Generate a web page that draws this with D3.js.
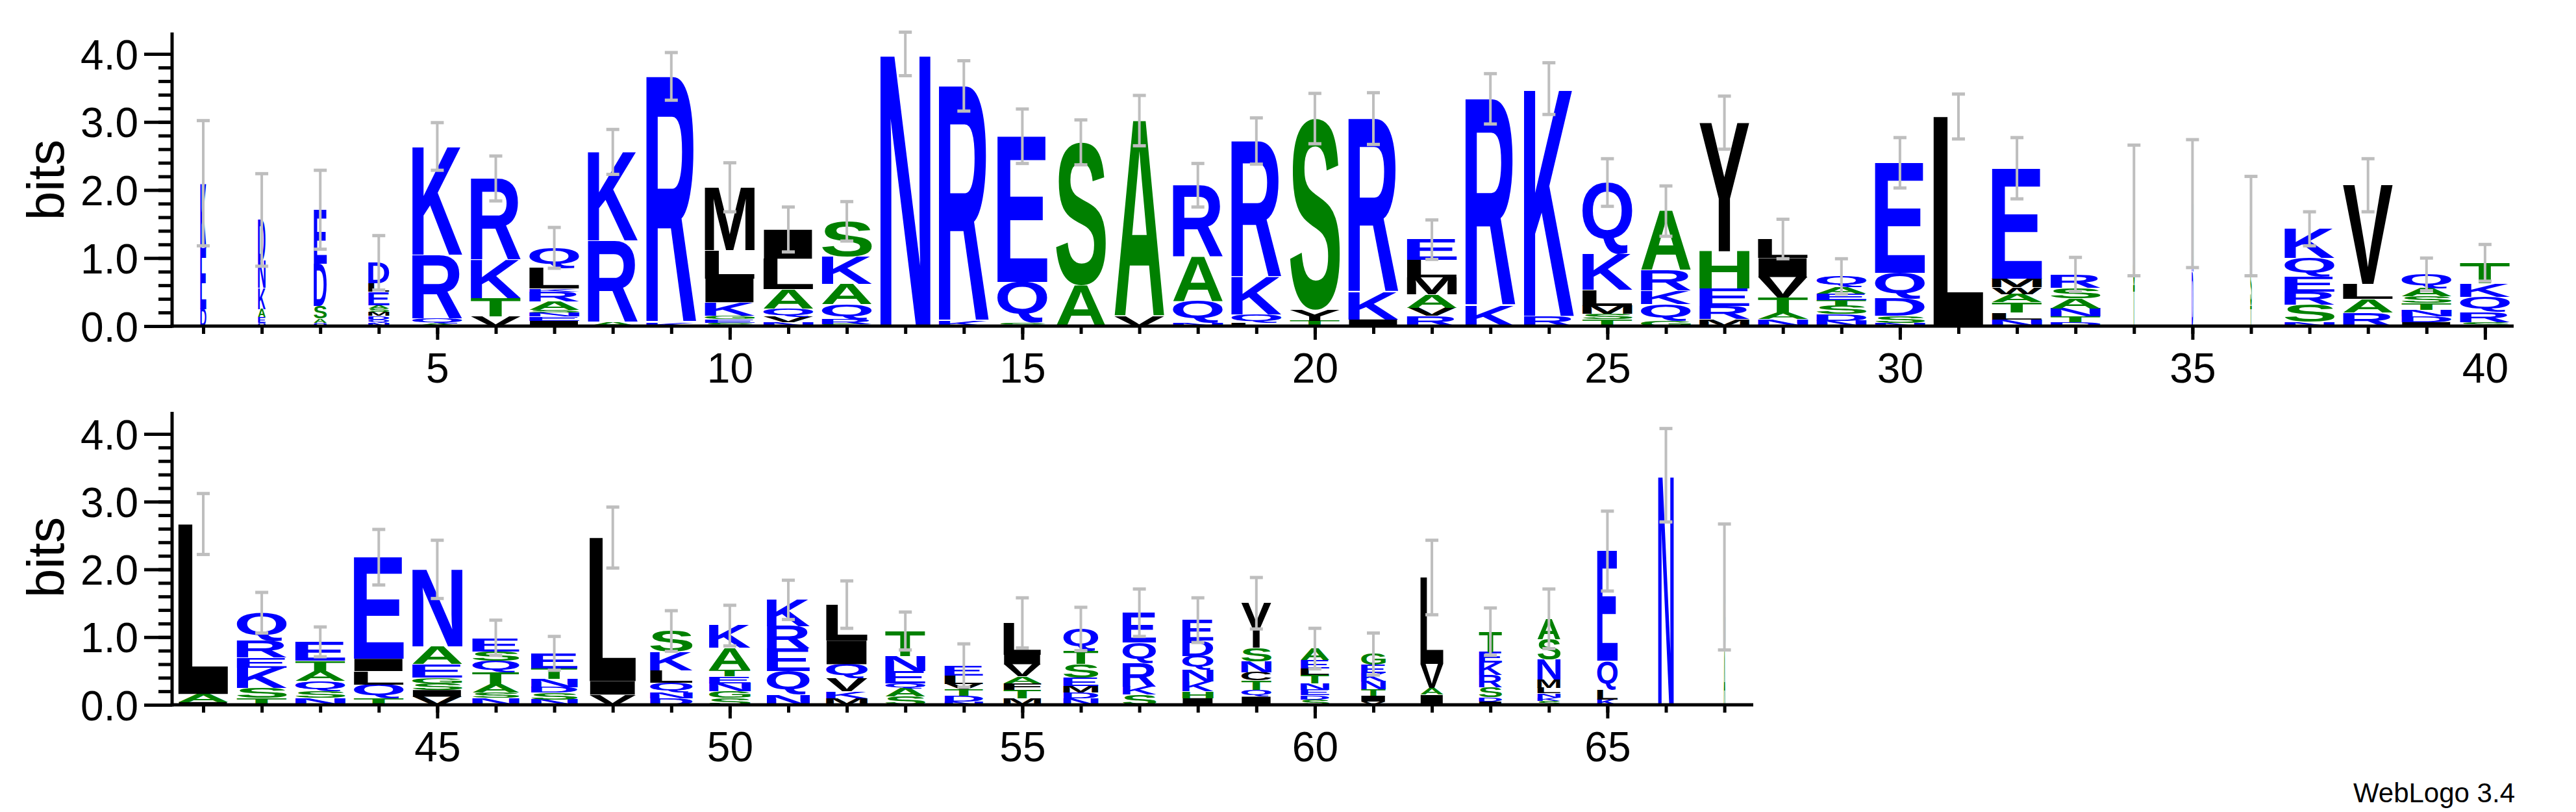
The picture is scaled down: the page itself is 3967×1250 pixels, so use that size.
<!DOCTYPE html>
<html><head><meta charset="utf-8">
<script src="https://cdn.jsdelivr.net/npm/d3@7"></script>
<style>body{margin:0;background:#fff}svg{display:block}</style>
</head><body>
<svg id="c" width="3967" height="1250"></svg>
<script>
// ---- data: stacks bottom -> top, [letter, bits]
const stacksTop = [
 [["D",.25],["E",.9],["K",.95]],
 [["Q",.05],["E",.08],["A",.12],["K",.31],["N",.4],["D",.6]],
 [["Q",.05],["A",.06],["S",.19],["D",.62],["E",.79]],
 [["N",.05],["Q",.05],["D",.05],["M",.06],["S",.05],["A",.05],["E",.2],["L",.12],["D",.3]],
 [["A",.04],["Q",.07],["R",.94],["K",1.59]],
 [["V",.14],["T",.27],["K",.56],["R",1.2]],
 [["I",.08],["E",.06],["N",.06],["S",.04],["A",.12],["R",.15],["K",.04],["L",.3],["Q",.3]],
 [["A",.06],["R",1.2],["K",1.3]],
 [["K",.05],["R",3.62]],
 [["S",.05],["E",.05],["G",.05],["K",.2],["I",.35],["L",.42],["M",.92]],
 [["N",.06],["V",.08],["Q",.12],["A",.28],["L",.45],["I",.43]],
 [["G",.03],["R",.07],["Q",.22],["A",.3],["K",.4],["S",.52]],
 [["N",4.0]],
 [["K",.07],["R",3.46]],
 [["S",.05],["Q",.6],["E",2.14]],
 [["A",.6],["S",2.1]],
 [["V",.14],["A",2.88]],
 [["N",.05],["Q",.32],["A",.65],["R",1.05]],
 [["L",.05],["Q",.12],["K",.55],["R",2.0]],
 [["T",.08],["Y",.16],["S",2.81]],
 [["I",.1],["K",.4],["R",2.55]],
 [["R",.15],["V",.12],["A",.2],["M",.25],["L",.25],["E",.3]],
 [["K",.3],["R",3.04]],
 [["R",.15],["K",3.34]],
 [["T",.1],["S",.08],["M",.12],["L",.23],["K",.53],["Q",1.05]],
 [["G",.08],["Q",.24],["K",.2],["R",.3],["A",.87]],
 [["M",.1],["R",.2],["E",.25],["H",.55],["Y",1.89]],
 [["N",.1],["A",.1],["T",.22],["V",.3],["I",.28],["L",.28]],
 [["N",.08],["D",.1],["S",.12],["T",.08],["E",.1],["A",.1],["Q",.15]],
 [["N",.05],["S",.1],["D",.25],["Q",.38],["E",1.62]],
 [["L",3.08]],
 [["N",.1],["L",.1],["T",.15],["A",.12],["W",.1],["M",.13],["E",1.62]],
 [["D",.06],["T",.08],["N",.12],["A",.15],["S",.15],["R",.2]],
 [["T",.6],["S",1.1]],
 [["D",.8],["N",1.0]],
 [["T",.3],["S",.6],["I",.3],["L",.27]],
 [["N",.06],["S",.25],["R",.2],["E",.22],["Q",.27],["K",.43]],
 [["R",.2],["A",.2],["L",.22],["V",1.45]],
 [["I",.06],["D",.08],["N",.1],["T",.1],["S",.1],["A",.12],["Q",.2]],
 [["S",.06],["R",.15],["Q",.22],["K",.2],["T",.3]]
];
const widthsTop = [.12,.15,.26,.42,1,1,1,1,1,1,1,1,1,1,1,1,1,1,1,1,1,1,1,1,1,1,1,1,1,1,1,1,1,.03,.03,.03,1,1,1,1];
const errTop = [.92,.68,.58,.4,.35,.33,.3,.33,.35,.36,.33,.29,.32,.37,.4,.33,.37,.32,.34,.37,.38,.29,.37,.38,.35,.37,.39,.29,.26,.37,.33,.45,.25,.96,.94,.73,.25,.39,.24,.27];

const stacksBottom = [
 [["I",.04],["A",.12],["L",2.51]],
 [["T",.1],["S",.15],["K",.3],["E",.15],["R",.25],["Q",.41]],
 [["N",.1],["S",.1],["Q",.15],["A",.15],["T",.15],["E",.28]],
 [["T",.1],["Q",.2],["L",.2],["I",.18],["E",1.5]],
 [["V",.12],["I",.1],["S",.1],["G",.08],["E",.2],["A",.26],["N",1.14]],
 [["N",.1],["S",.08],["A",.12],["T",.18],["Q",.17],["S",.14],["E",.2]],
 [["N",.08],["S",.1],["D",.08],["N",.12],["T",.16],["E",.22]],
 [["V",.15],["I",.2],["L",2.12]],
 [["D",.1],["N",.08],["Q",.15],["L",.18],["K",.27],["S",.31]],
 [["S",.1],["G",.1],["N",.12],["E",.1],["T",.1],["A",.32],["K",.33]],
 [["N",.15],["Q",.35],["E",.33],["R",.33],["K",.39]],
 [["M",.1],["K",.1],["V",.2],["Q",.2],["I",.35],["L",.53]],
 [["S",.12],["A",.12],["Q",.08],["E",.18],["N",.22],["T",.37]],
 [["N",.05],["D",.08],["T",.1],["V",.08],["L",.12],["E",.15]],
 [["M",.1],["T",.12],["F",.1],["A",.1],["V",.18],["I",.14],["L",.47]],
 [["N",.1],["D",.08],["M",.1],["E",.12],["S",.2],["T",.2],["Q",.32]],
 [["S",.15],["K",.12],["R",.35],["Q",.3],["E",.44]],
 [["I",.1],["H",.1],["K",.15],["N",.17],["Q",.2],["D",.23],["E",.3]],
 [["I",.12],["Q",.1],["T",.14],["C",.12],["N",.16],["S",.2],["Y",.66]],
 [["S",.08],["D",.06],["E",.08],["N",.1],["T",.12],["L",.1],["E",.12],["A",.17]],
 [["V",.05],["I",.08],["T",.1],["N",.12],["K",.12],["E",.12],["G",.16]],
 [["I",.15],["A",.1],["V",.35],["L",1.28]],
 [["I",.05],["D",.06],["S",.15],["R",.18],["K",.18],["E",.16],["T",.3]],
 [["S",.06],["K",.05],["N",.06],["L",.08],["M",.12],["N",.3],["S",.3],["A",.3]],
 [["K",.08],["L",.15],["Q",.42],["E",1.62]],
 [["N",3.39]],
 [["A",.8],["G",.94]]
];
const widthsBottom = [1,1,1,1,1,.94,.93,.93,.85,.83,.86,.83,.8,.77,.75,.7,.67,.62,.6,.57,.49,.46,.46,.46,.41,.31,.03];
const errBottom = [.45,.3,.22,.41,.43,.26,.25,.45,.3,.3,.29,.35,.28,.32,.37,.32,.35,.33,.38,.3,.31,.55,.35,.44,.59,.69,.93];
const yTicks = [0,1,2,3,4];
const colors = {blue:"KRDENQ", green:"STAGH", black:"LMIVYFWCP"};

// ---- drawing
const svg = d3.select("#c");
const FONT = "bold 200px 'Liberation Sans', Arial, sans-serif";
const cv = document.createElement("canvas").getContext("2d");
cv.font = FONT;
const metrics = {};
function met(ch){ if(!metrics[ch]){const m=cv.measureText(ch);metrics[ch]={l:m.actualBoundingBoxLeft,r:m.actualBoundingBoxRight,a:m.actualBoundingBoxAscent,d:m.actualBoundingBoxDescent};} return metrics[ch]; }
function colorOf(ch){ for(const k in colors) if(colors[k].includes(ch)) return k==="blue"?"#0000ff":k==="green"?"#008000":"#000000"; return "#000"; }

const STEP = 90.1, COLW = 77;
function panel(stacks, widths, errs, first, y0, y4, axisTop, axisRight, bitsY){
  const n = stacks.length;
  const x = d3.scaleLinear().domain([first, first+n-1]).range([313, 313+(n-1)*STEP]);
  const y = d3.scaleLinear().domain([0,4]).range([y0,y4]);
  const g = svg.append("g");
  stacks.forEach((st,i)=>{
    const pos = first+i, w = COLW*widths[i];
    let cum = 0;
    st.forEach(([ch,h])=>{
      const top = y(cum+h), bot = y(cum); cum += h;
      const bh = bot-top; if(bh<=0.3) return;
      const m = met(ch), bx = x(pos)-w/2;
      const sx = w/(m.l+m.r), sy = bh/(m.a+m.d);
      g.append("text").text(ch).attr("font-family","'Liberation Sans', Arial, sans-serif")
        .attr("font-weight","bold").attr("font-size",200).attr("fill",colorOf(ch))
        .attr("transform",`translate(${bx+m.l*sx},${top+m.a*sy}) scale(${sx},${sy})`);
    });
  });
  // error bars
  stacks.forEach((st,i)=>{
    const pos = first+i, tot = d3.sum(st,d=>d[1]), e = errs[i], cx = x(pos);
    const lo = y(Math.max(0,tot-e)), hi = y(tot+e);
    g.append("line").attr("x1",cx).attr("x2",cx).attr("y1",lo).attr("y2",hi).attr("stroke","#bebebe").attr("stroke-width",4);
    [lo,hi].forEach(yy=>g.append("line").attr("x1",cx-10).attr("x2",cx+10).attr("y1",yy).attr("y2",yy).attr("stroke","#bebebe").attr("stroke-width",5));
  });
  // y axis
  const minor = d3.range(0,4.01,0.2);
  const ay1 = svg.append("g").attr("transform","translate(265,0)").call(d3.axisLeft(y).tickValues(minor).tickSize(21).tickSizeOuter(0).tickFormat(""));
  const ay2 = svg.append("g").attr("transform","translate(265,0)").call(d3.axisLeft(y).tickValues(yTicks).tickSize(43).tickSizeOuter(0).tickFormat(d3.format(".1f")));
  [ay1,ay2].forEach(a=>{a.select(".domain").remove();a.selectAll("line").attr("stroke","#000").attr("stroke-width",5);});
  ay2.selectAll("text").attr("font-family","'Liberation Sans', Arial, sans-serif").attr("font-size",64).attr("fill","#000").attr("x",-52).attr("dy","0.36em");
  svg.append("line").attr("x1",265).attr("x2",265).attr("y1",axisTop).attr("y2",y0+2.5).attr("stroke","#000").attr("stroke-width",5);
  // x axis
  const allPos = d3.range(first, first+n);
  const ax1 = svg.append("g").attr("transform",`translate(0,${y0})`).call(d3.axisBottom(x).tickValues(allPos).tickSize(12).tickSizeOuter(0).tickFormat(""));
  const ax2 = svg.append("g").attr("transform",`translate(0,${y0})`).call(d3.axisBottom(x).tickValues(allPos.filter(p=>p%5===0)).tickSize(21).tickSizeOuter(0).tickFormat(d3.format("d")));
  [ax1,ax2].forEach(a=>{a.select(".domain").remove();a.selectAll("line").attr("stroke","#000").attr("stroke-width",5);});
  ax2.selectAll("text").attr("font-family","'Liberation Sans', Arial, sans-serif").attr("font-size",64).attr("fill","#000").attr("y",42).attr("dy","0.71em");
  svg.append("line").attr("x1",262.5).attr("x2",axisRight).attr("y1",y0).attr("y2",y0).attr("stroke","#000").attr("stroke-width",5);
  svg.append("text").text("bits").attr("font-family","'Liberation Sans', Arial, sans-serif").attr("font-size",80).attr("fill","#000")
     .attr("text-anchor","middle").attr("transform",`translate(98,${bitsY}) rotate(-90)`);
}
panel(stacksTop, widthsTop, errTop, 1, 502, 83, 50, 3871, 277);
panel(stacksBottom, widthsBottom, errBottom, 41, 1085, 668, 634, 2700, 858);
svg.append("text").text("WebLogo 3.4").attr("font-family","'Liberation Sans', Arial, sans-serif").attr("font-size",42).attr("fill","#000")
   .attr("text-anchor","end").attr("x",3873).attr("y",1235);
</script>
</body></html>
